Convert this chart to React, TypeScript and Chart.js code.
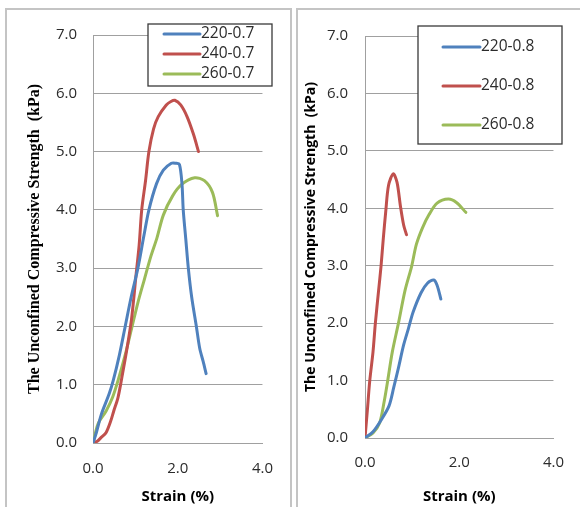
import React, { useEffect, useRef } from "react";
import { Chart, registerables } from "chart.js";

Chart.register(...registerables);

// ---------- data: left panel (γd 0.7 series) ----------
const leftLabels = ["220-0.7", "240-0.7", "260-0.7"];
const s220_07_x = [0, 0.08, 0.2, 0.38, 0.48, 0.62, 0.76, 0.9, 1.06, 1.2, 1.32, 1.5, 1.66, 1.85, 1.96, 2.04, 2.1, 2.13, 2.19, 2.25, 2.33, 2.44, 2.52, 2.6, 2.67];
const s220_07_y = [0, 0.18, 0.5, 0.84, 1.08, 1.5, 2.0, 2.5, 3.0, 3.55, 4.0, 4.45, 4.68, 4.8, 4.8, 4.78, 4.45, 4.0, 3.5, 3.0, 2.5, 2.0, 1.62, 1.4, 1.19];
const s240_07_x = [0, 0.1, 0.2, 0.31, 0.42, 0.49, 0.59, 0.68, 0.79, 0.91, 1.02, 1.09, 1.15, 1.24, 1.32, 1.43, 1.54, 1.73, 1.84, 1.93, 2.07, 2.22, 2.37, 2.49];
const s240_07_y = [0, 0.03, 0.1, 0.18, 0.38, 0.55, 0.78, 1.12, 1.57, 2.13, 2.91, 3.4, 4.0, 4.5, 5.0, 5.39, 5.6, 5.8, 5.86, 5.88, 5.8, 5.6, 5.3, 5.0];
const s260_07_x = [0, 0.12, 0.31, 0.46, 0.61, 0.76, 0.91, 1.06, 1.21, 1.36, 1.51, 1.66, 1.88, 2.1, 2.4, 2.63, 2.82, 2.94];
const s260_07_y = [0, 0.33, 0.55, 0.78, 1.12, 1.51, 1.96, 2.41, 2.8, 3.19, 3.52, 3.91, 4.24, 4.44, 4.55, 4.5, 4.3, 3.9];

// ---------- data: right panel (γd 0.8 series) ----------
const rightLabels = ["220-0.8", "240-0.8", "260-0.8"];
const s220_08_x = [0, 0.17, 0.34, 0.51, 0.61, 0.71, 0.82, 0.92, 1.02, 1.19, 1.33, 1.46, 1.53, 1.61];
const s220_08_y = [0, 0.11, 0.31, 0.56, 0.88, 1.22, 1.62, 1.9, 2.19, 2.53, 2.7, 2.75, 2.66, 2.42];
const s240_08_x = [0, 0.05, 0.1, 0.17, 0.22, 0.29, 0.34, 0.39, 0.44, 0.5, 0.6, 0.68, 0.75, 0.82, 0.88];
const s240_08_y = [0, 0.48, 0.99, 1.5, 2.0, 2.58, 2.99, 3.49, 3.94, 4.4, 4.6, 4.45, 4.05, 3.71, 3.54];
const s260_08_x = [0, 0.17, 0.31, 0.41, 0.48, 0.58, 0.71, 0.85, 0.99, 1.09, 1.22, 1.36, 1.53, 1.77, 1.94, 2.14];
const s260_08_y = [0, 0.09, 0.26, 0.65, 0.99, 1.5, 2.0, 2.57, 2.99, 3.37, 3.66, 3.89, 4.09, 4.16, 4.1, 3.93];

// ---------- axes ----------
const yMin = 0, yMax = 7, yStep = 1;
const xMin = 0, xMax = 4, xStep = 2;
const xTitle = "Strain (%)";
const yTitle = "The Unconfined Compressive Strength  (kPa)";
const seriesColors = ["#4F81BD", "#C0504D", "#9BBB59"];

const zip = (xs: number[], ys: number[]) => xs.map((x, i) => ({ x, y: ys[i] }));

const boxLegend = {
  id: "boxLegend",
  afterDraw(chart: any, _args: any, opts: any) {
    const ctx = chart.ctx;
    ctx.save();
    ctx.fillStyle = "#ffffff";
    ctx.fillRect(opts.x, opts.y, opts.w, opts.h);
    ctx.strokeStyle = "#3a3a3a";
    ctx.lineWidth = 1.3;
    ctx.strokeRect(opts.x, opts.y, opts.w, opts.h);
    chart.data.datasets.forEach((ds: any, i: number) => {
      const y = opts.rowY[i];
      ctx.strokeStyle = ds.borderColor;
      ctx.lineWidth = 3;
      ctx.lineCap = "round";
      ctx.beginPath();
      ctx.moveTo(opts.lineX1, y);
      ctx.lineTo(opts.lineX2, y);
      ctx.stroke();
      ctx.fillStyle = "#2b2b2b";
      ctx.font = opts.font;
      ctx.textBaseline = "middle";
      ctx.textAlign = "left";
      ctx.fillText(ds.label, opts.textX, y);
    });
    ctx.restore();
  },
};

type PanelProps = {
  labels: string[];
  xs: number[][];
  ys: number[][];
  width: number;
  height: number;
  layout: any;
};

function Panel({ labels, xs, ys, width, height, layout }: PanelProps) {
  const ref = useRef<HTMLCanvasElement | null>(null);
  useEffect(() => {
    if (!ref.current) return;
    const chart = new Chart(ref.current, {
      type: "scatter",
      data: {
        datasets: labels.map((label, i) => ({
          label,
          data: zip(xs[i], ys[i]),
          showLine: true,
          borderColor: seriesColors[i],
          backgroundColor: seriesColors[i],
          borderWidth: 3,
          pointRadius: 0,
          tension: 0.3,
          borderCapStyle: "round",
          borderJoinStyle: "round",
        })),
      },
      options: {
        responsive: false,
        animation: false,
        devicePixelRatio: 1,
        layout: { padding: layout.padding },
        plugins: {
          legend: { display: false },
          tooltip: { enabled: false },
          boxLegend: layout.legend,
        } as any,
        scales: {
          x: {
            type: "linear",
            min: xMin,
            max: xMax,
            afterFit: (s: any) => { s.height = layout.xHeight; },
            ticks: {
              stepSize: xStep,
              padding: layout.xTickPad,
              color: "#2b2b2b",
              font: { family: "'Open Sans'", size: 15 },
              callback: (v: any) => Number(v).toFixed(1),
            },
            grid: { display: false, drawTicks: false },
            border: { display: true, color: "#a0a0a0" },
            title: {
              display: true,
              text: xTitle,
              color: "#000",
              font: { family: "'Open Sans'", size: 15, weight: "bold" },
              padding: { top: 0, bottom: 1 },
            },
          },
          y: {
            type: "linear",
            min: yMin,
            max: yMax,
            afterFit: (s: any) => { s.width = layout.yWidth; },
            ticks: {
              stepSize: yStep,
              padding: layout.yTickPad,
              color: "#2b2b2b",
              font: { family: "'Open Sans'", size: 15 },
              callback: (v: any) => Number(v).toFixed(1),
            },
            grid: { display: true, drawTicks: false, color: "#a0a0a0", lineWidth: 1 },
            border: { display: true, color: "#a0a0a0" },
            title: {
              display: true,
              text: yTitle,
              color: "#000",
              font: layout.yTitleFont,
              padding: { top: layout.yTitlePad, bottom: 0 },
            },
          },
        },
      } as any,
      plugins: [boxLegend as any],
    });
    return () => chart.destroy();
  }, []);
  return <canvas ref={ref} width={width} height={height} style={{ width, height, display: "block" }} />;
}

export default function App() {
  const frame = "2px solid #c4c4c4";
  return (
    <div style={{ position: "fixed", left: 0, top: 0, width: 580, height: 507, overflow: "hidden", background: "#fff" }}>
      <div style={{ position: "absolute", left: 5, top: 8, width: 283, height: 520, borderTop: frame, borderLeft: frame, borderRight: frame }} />
      <div style={{ position: "absolute", left: 296, top: 8, width: 300, height: 520, borderTop: frame, borderLeft: frame }} />
      <div style={{ position: "absolute", left: 7, top: 10 }}>
        <Panel
          labels={leftLabels}
          xs={[s220_07_x, s240_07_x, s260_07_x]}
          ys={[s220_07_y, s240_07_y, s260_07_y]}
          width={283}
          height={497}
          layout={{
            padding: { left: 0, right: 19, top: 16, bottom: 0 },
            yWidth: 86,
            xHeight: 64,
            yTickPad: 16,
            xTickPad: 17,
            yTitleFont: { family: "'Liberation Serif'", size: 16, weight: "bold" },
            yTitlePad: 18,
            legend: { x: 141, y: 14, w: 124, h: 62, rowY: [24, 44, 64], lineX1: 157, lineX2: 193, textX: 194, font: "15.5px 'Open Sans'" },
          }}
        />
      </div>
      <div style={{ position: "absolute", left: 298, top: 10 }}>
        <Panel
          labels={rightLabels}
          xs={[s220_08_x, s240_08_x, s260_08_x]}
          ys={[s220_08_y, s240_08_y, s260_08_y]}
          width={282}
          height={497}
          layout={{
            padding: { left: 0, right: 19, top: 17, bottom: 0 },
            yWidth: 67,
            xHeight: 69,
            yTickPad: 17,
            xTickPad: 16,
            yTitleFont: { family: "'Open Sans'", size: 14, weight: "bold" },
            yTitlePad: 5,
            legend: { x: 120, y: 16, w: 144, h: 118, rowY: [37, 76, 115], lineX1: 145, lineX2: 182, textX: 183, font: "15.5px 'Open Sans'" },
          }}
        />
      </div>
    </div>
  );
}
